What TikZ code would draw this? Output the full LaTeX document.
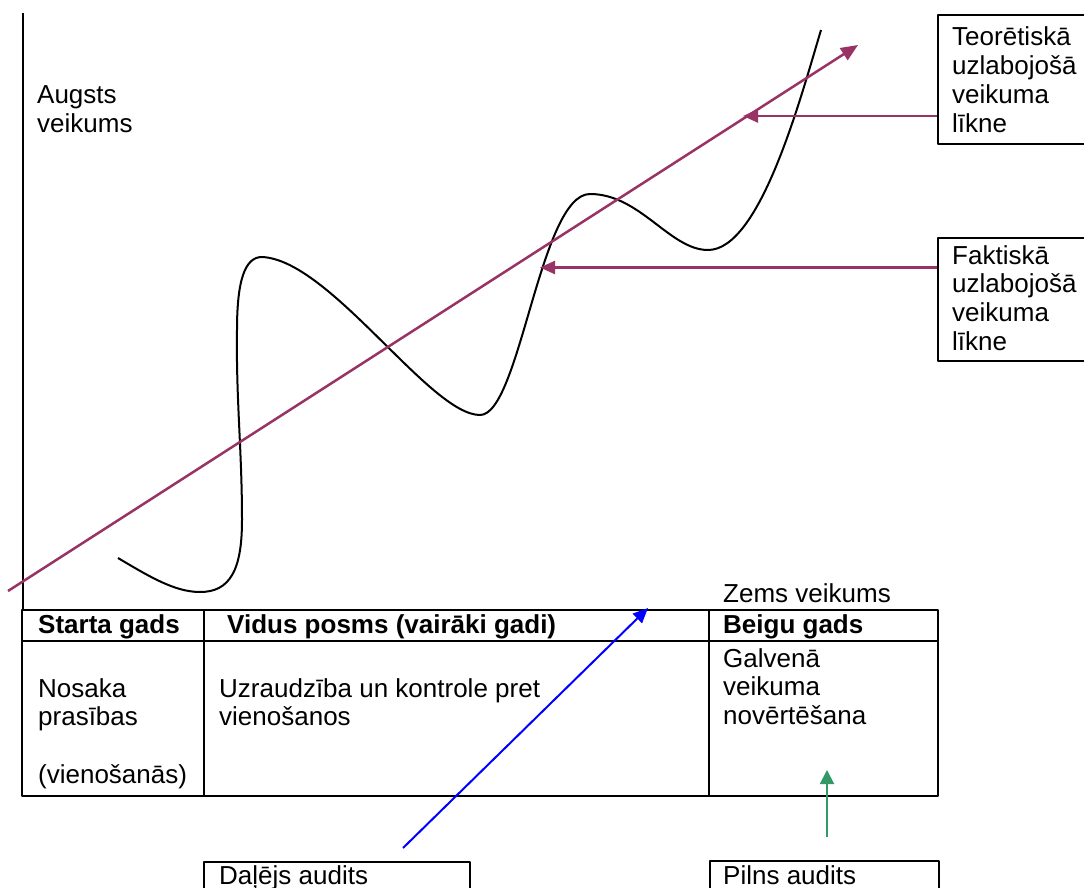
\documentclass[tikz,border=0pt]{standalone}
\usepackage{fontspec}
\setmainfont{Liberation Sans}
\usetikzlibrary{arrows.meta}

\definecolor{plum}{RGB}{153,51,102}
\definecolor{auditgreen}{RGB}{51,153,102}
\definecolor{auditblue}{RGB}{0,0,255}

% a stack of left-aligned lines whose baseline is the first line's
\newcommand{\txtlines}[1]{\begin{tabular}[t]{@{}l@{}}#1\end{tabular}}

\tikzset{
  txt/.style={inner sep=0pt, anchor=base west, font=\fontsize{26}{28.7}\selectfont},
  hdr/.style={txt, font=\fontsize{26}{28.7}\selectfont\bfseries},
  frame/.style={draw, line width=2pt},
  labelbox/.style={draw, line width=2pt, inner sep=0pt, anchor=north west},
  trend/.style={draw=plum, line width=2.5pt, -{Triangle[length=17pt,width=14pt]}},
  pointer/.style={draw=plum, line width=2.5pt, -{Triangle[length=15pt,width=13pt]}},
  curve/.style={draw, line width=2pt},
}

\begin{document}
\begin{tikzpicture}[x=1pt, y=-1pt, line join=round]
\useasboundingbox (0,0) rectangle (1084,888);
\clip (0,0) rectangle (1084,888);

% vertical performance axis
\coordinate (axisTop) at (23,13);
\coordinate (axisFoot) at (23,610);
\draw[frame] (axisTop) -- (axisFoot);
\node[txt] (high) at (37,104) {\txtlines{Augsts\\veikums}};

% actual (wavy) improvement curve
\draw[curve] (118,558) .. controls (150,577) and (175,592) .. (200,592)
  .. controls (230,592) and (242,570) .. (242,520)
  .. controls (242,450) and (236,400) .. (237,330)
  .. controls (237,280) and (245,257) .. (262,257)
  .. controls (330,260) and (430,415) .. (480,415)
  .. controls (520,415) and (540,194) .. (590,194)
  .. controls (640,194) and (670,250) .. (708,250)
  .. controls (760,250) and (800,100) .. (821,30);

% theoretical (straight) improvement line
\coordinate (trendStart) at (8,591);
\coordinate (trendEnd) at (858,45);
\draw[trend] (trendStart) -- (trendEnd);

% label boxes on the right
\node[labelbox, minimum width=150pt, minimum height=129pt] (teoBox) at (937,14) {};
\node[txt] (teoText) at (952,46) {\txtlines{Teorētiskā\\uzlabojošā\\veikuma\\līkne}};
\node[labelbox, minimum width=150pt, minimum height=123pt] (fakBox) at (937,237) {};
\node[txt] (fakText) at (952,264) {\txtlines{Faktiskā\\uzlabojošā\\veikuma\\līkne}};

\coordinate (teoTip) at (743,116);
\coordinate (fakTip) at (540,267.5);
\draw[pointer] (teoBox.west |- teoTip) -- (teoTip);
\draw[pointer] (fakBox.west |- fakTip) -- (fakTip);

% phase table
\draw[frame] (22,610) rectangle (938,796);
\draw[frame] (22,641) -- (938,641);
\draw[frame] (204,610) -- (204,796);
\draw[frame] (709,610) -- (709,796);

\node[txt] (low) at (723,602) {Zems veikums};
\node[hdr] (startHdr) at (38,633) {Starta gads};
\node[hdr] (midHdr) at (227,633) {Vidus posms (vairāki gadi)};
\node[hdr] (endHdr) at (723,633) {Beigu gads};

\node[txt] (startCell) at (38,697) {\txtlines{Nosaka\\prasības\\ \\(vienošanās)}};
\node[txt] (midCell) at (219,697) {\txtlines{Uzraudzība un kontrole pret\\vienošanos}};
\node[txt] (endCell) at (723,667) {\txtlines{Galvenā\\veikuma\\novērtēšana}};

% audit boxes and their arrows
\node[labelbox, minimum width=266pt, minimum height=40pt] (partBox) at (203,861) {};
\node[txt] (partText) at (219,884) {Daļējs audits};
\node[labelbox, minimum width=229pt, minimum height=40pt] (fullBox) at (709,860) {};
\node[txt] (fullText) at (723,884) {Pilns audits};

\coordinate (partFrom) at (403,848);
\coordinate (partTip) at (648,608);
\draw[draw=auditblue, line width=2pt, -{Triangle[length=15pt,width=13pt]}] (partFrom) -- (partTip);
\coordinate (fullFrom) at (827,837);
\coordinate (fullTip) at (827,770);
\draw[draw=auditgreen, line width=2pt, -{Triangle[length=14pt,width=14pt]}] (fullFrom) -- (fullTip);
\end{tikzpicture}
\end{document}
